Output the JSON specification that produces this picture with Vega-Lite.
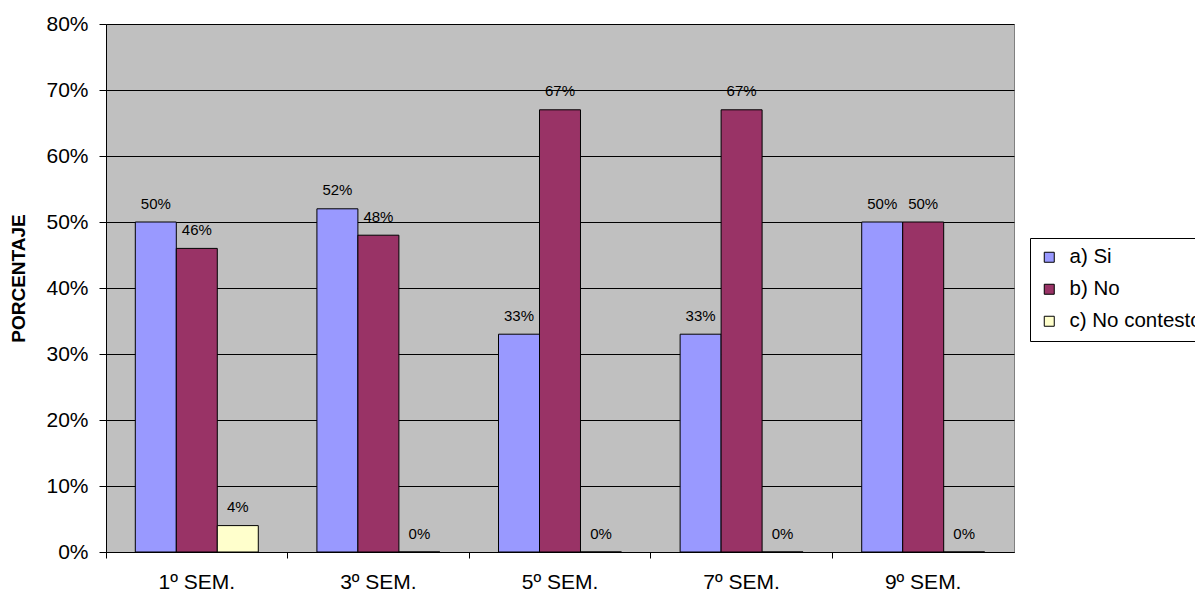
{
  "$schema": "https://vega.github.io/schema/vega-lite/v6.json",
  "autosize": {"type": "none"},
  "padding": {"left": 106, "top": 24, "right": 181, "bottom": 42},
  "width": 908,
  "height": 528,
  "background": "white",
  "config": {
    "font": "Liberation Sans",
    "view": {"fill": "#c0c0c0", "stroke": "#808080", "strokeWidth": 1}
  },
  "data": {
    "values": [
      {"sem": "1º SEM.", "resp": "a) Si", "val": 0.50},
      {"sem": "1º SEM.", "resp": "b) No", "val": 0.46},
      {"sem": "1º SEM.", "resp": "c) No contesto", "val": 0.04},
      {"sem": "3º SEM.", "resp": "a) Si", "val": 0.52},
      {"sem": "3º SEM.", "resp": "b) No", "val": 0.48},
      {"sem": "3º SEM.", "resp": "c) No contesto", "val": 0.0},
      {"sem": "5º SEM.", "resp": "a) Si", "val": 0.33},
      {"sem": "5º SEM.", "resp": "b) No", "val": 0.67},
      {"sem": "5º SEM.", "resp": "c) No contesto", "val": 0.0},
      {"sem": "7º SEM.", "resp": "a) Si", "val": 0.33},
      {"sem": "7º SEM.", "resp": "b) No", "val": 0.67},
      {"sem": "7º SEM.", "resp": "c) No contesto", "val": 0.0},
      {"sem": "9º SEM.", "resp": "a) Si", "val": 0.50},
      {"sem": "9º SEM.", "resp": "b) No", "val": 0.50},
      {"sem": "9º SEM.", "resp": "c) No contesto", "val": 0.0}
    ]
  },
  "encoding": {
    "x": {
      "field": "sem", "type": "nominal", "sort": null,
      "scale": {"paddingInner": 0, "paddingOuter": 0},
      "axis": {
        "title": null, "labelAngle": 0, "labelFontSize": 21, "labelColor": "black",
        "labelPadding": 13, "bandPosition": 0, "tickSize": 6, "tickColor": "black",
        "domainColor": "black", "grid": false
      }
    },
    "xOffset": {
      "field": "resp", "type": "nominal",
      "scale": {"paddingInner": 0, "paddingOuter": 0.715}
    },
    "y": {
      "field": "val", "type": "quantitative",
      "scale": {"domain": [0, 0.8]},
      "axis": {
        "title": "PORCENTAJE", "titleFontSize": 19, "titleFontWeight": "bold", "titleColor": "black",
        "titleX": -88, "titleY": 254, "titleBaseline": "middle", "titleAngle": -90, "titleAlign": "center",
        "format": ".0%", "values": [0, 0.1, 0.2, 0.3, 0.4, 0.5, 0.6, 0.7, 0.8],
        "labelFontSize": 21, "labelColor": "black", "labelPadding": 11, "labelOverlap": false,
        "tickSize": 7, "tickColor": "black", "domainColor": "black",
        "grid": true, "gridColor": "black", "gridOpacity": 1
      }
    }
  },
  "layer": [
    {
      "mark": {"type": "bar", "stroke": "black", "strokeWidth": 1},
      "encoding": {
        "color": {
          "field": "resp", "type": "nominal",
          "scale": {"domain": ["a) Si", "b) No", "c) No contesto"], "range": ["#9999ff", "#993366", "#ffffcc"]},
          "legend": {
            "title": null, "orient": "none", "legendX": 924, "legendY": 214,
            "symbolType": "square", "symbolSize": 100, "symbolStrokeColor": "black", "symbolStrokeWidth": 1,
            "labelFontSize": 20.5, "labelColor": "black", "rowPadding": 11, "labelOffset": 10, "labelLimit": 400,
            "strokeColor": "black", "fillColor": "white", "padding": 9
          }
        }
      }
    },
    {
      "mark": {"type": "text", "fontSize": 15, "color": "black", "baseline": "alphabetic", "dy": -13.5},
      "encoding": {
        "text": {"field": "val", "type": "quantitative", "format": ".0%"}
      }
    }
  ]
}
